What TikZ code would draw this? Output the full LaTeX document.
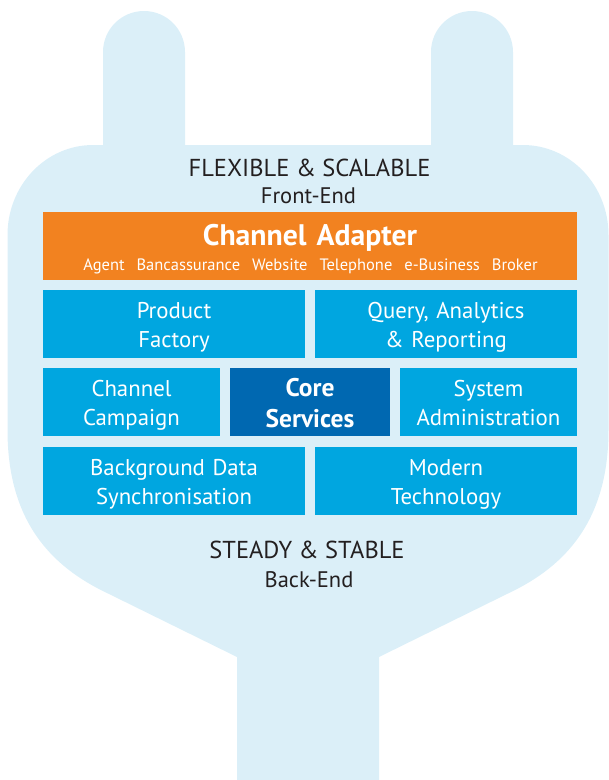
\documentclass[tikz,border=0pt]{standalone}
\usepackage{fontspec}
\setmainfont{PT Sans}
\definecolor{plugbg}{RGB}{219,239,248}
\definecolor{adapterorange}{RGB}{242,130,32}
\definecolor{tileblue}{RGB}{0,166,224}
\definecolor{coreblue}{RGB}{0,104,177}
\definecolor{inkdark}{RGB}{35,31,32}
\newcommand{\chsep}{\hspace{12pt}}
\tikzset{
  headline/.style={text=inkdark, inner sep=0pt, anchor=base, font=\fontsize{24.5}{29}\selectfont},
  subline/.style={text=inkdark, inner sep=0pt, anchor=base, font=\fontsize{22.5}{27}\selectfont},
  tile/.style={fill=tileblue, text=white, inner sep=0pt, outer sep=0pt, align=center,
    anchor=north west, font=\fontsize{22.8}{28.4}\selectfont, text height=28.7pt, text depth=39.3pt},
  widetile/.style={tile, text width=262pt},
  narrowtile/.style={tile, text width=177pt},
  coretile/.style={tile, fill=coreblue, text width=160pt,
    font=\fontsize{25.5}{31}\selectfont\bfseries, text height=28.7pt, text depth=39.3pt},
  adapter/.style={fill=adapterorange, text=white, inner sep=0pt, outer sep=0pt, align=center,
    anchor=north west, text width=534pt, text height=33.7pt, text depth=34.3pt,
    font=\fontsize{29.7}{34}\selectfont\bfseries},
  channels/.style={text=white, inner sep=0pt, anchor=base, font=\fontsize{16.5}{20}\selectfont}
}
\begin{document}
\begin{tikzpicture}[x=1pt, y=-1pt]
\useasboundingbox (0,0) rectangle (609,780);

% plug outline: two prongs, rounded body, tapering into the cable stem
\fill[plugbg]
  (103,145) -- (103,52) arc[start angle=180, end angle=0, radius=41pt] -- (185,145)
  -- (431,145) -- (431,52) arc[start angle=180, end angle=0, radius=41pt] -- (513,145)
  -- (523,145) .. controls (570,145) and (608.5,185) .. (608.5,235)
  -- (608.5,430) .. controls (608.5,520) and (566,566) .. (509,593)
  -- (379,657) -- (379,780) -- (237,780) -- (237,657)
  -- (107,593) .. controls (50,566) and (7.5,520) .. (7.5,430)
  -- (7.5,235) .. controls (7.5,185) and (46,145) .. (93,145) -- cycle;

% front-end heading
\node[headline] (flex) at (309.5,176) {FLEXIBLE \& SCALABLE};
\node[subline] (front) at (308.5,203.3) {Front-End};

% channel adapter bar
\node[adapter] (adapter) at (43,212) {Channel Adapter};
\node[channels] (chlist) at (310.5,270.7)
  {Agent\chsep Bancassurance\chsep Website\chsep Telephone\chsep e-Business\chsep Broker};

% first row
\node[widetile] (product) at (43,290) {Product\\Factory};
\node[widetile] (query) at (315,290) {Query, Analytics\\\& Reporting};

% second row
\node[narrowtile] (campaign) at (43,368) {Channel\\Campaign};
\node[coretile] (core) at (230,368) {Core\\Services};
\node[narrowtile] (sysadmin) at (400,368) {System\\Administration};

% third row
\node[widetile] (sync) at (43,447) {Background Data\\Synchronisation};
\node[widetile] (modern) at (315,447) {Modern\\Technology};

% back-end heading
\node[headline] (steady) at (307,558) {STEADY \& STABLE};
\node[subline] (back) at (309,587) {Back-End};
\end{tikzpicture}
\end{document}
